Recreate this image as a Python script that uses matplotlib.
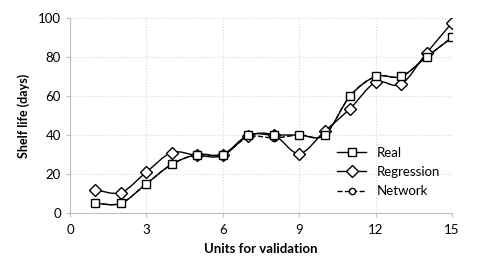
import numpy as np
import matplotlib
matplotlib.use("Agg")
import matplotlib.pyplot as plt
from matplotlib.path import Path
from matplotlib.patches import PathPatch
from matplotlib.lines import Line2D

plt.rcParams['font.family'] = ['Lato', 'DejaVu Sans']

units = [1, 2, 3, 4, 5, 6, 7, 8, 9, 10, 11, 12, 13, 14, 15]
real = [5, 5, 15, 25, 30, 30, 40, 40, 40, 40, 60, 70, 70, 80, 90]
regression = [12, 10.5, 21, 31, 29.5, 29.5, 39.5, 40, 30.5, 42, 53.5, 67, 66, 82, 97.5]
network = [5, 5, 15, 25, 30, 30, 39, 38.5, 40, 40, 60, 70, 70, 80, 90]


def smooth_path(x, y):
    # excel-style smoothed line: cubic bezier through the points
    p = np.column_stack([x, y]).astype(float)
    n = len(p)
    verts = [p[0]]
    codes = [Path.MOVETO]
    for i in range(n - 1):
        p0 = p[i - 1] if i > 0 else p[i]
        p3 = p[i + 2] if i + 2 < n else p[i + 1]
        c1 = p[i] + (p[i + 1] - p0) / 6
        c2 = p[i + 1] - (p3 - p[i]) / 6
        verts += [c1, c2, p[i + 1]]
        codes += [Path.CURVE4] * 3
    return Path(verts, codes)


fig = plt.figure(figsize=(4.86, 2.64), dpi=100)
ax = fig.add_axes([0.144, 0.193, 0.786, 0.739])

# network first so real sits on top of it
series = [
    (network, 'o', 4.5, '--'),
    (regression, 'D', 6, '-'),
    (real, 's', 5.5, '-'),
]
for vals, mk, ms, ls in series:
    ax.add_patch(PathPatch(smooth_path(units, vals), facecolor='none',
                           edgecolor='black', lw=1.0, ls=ls, zorder=3))
for z, (vals, mk, ms, ls) in enumerate(series):
    ax.plot(units, vals, ls='none', marker=mk, ms=ms, mfc='white',
            mec='black', mew=1.0, zorder=4 + z)

ax.set_xlim(0, 15)
ax.set_ylim(0, 100)
ax.set_xticks(range(0, 16, 3))
ax.set_yticks(range(0, 101, 20))
ax.grid(True, color='#d9d9d9', ls=':', lw=0.8)
ax.set_axisbelow(True)
for s in ['top', 'right']:
    ax.spines[s].set_visible(False)
for s in ['left', 'bottom']:
    ax.spines[s].set_color('#bfbfbf')
ax.tick_params(colors='#bfbfbf', labelcolor='black', labelsize=9.5, length=3)
ax.tick_params(axis='x', pad=5)
ax.set_xlabel('Units for validation', fontsize=9.5, fontweight='bold', labelpad=5)
ax.set_ylabel('Shelf life (days)', fontsize=9, fontweight='bold', labelpad=6)

handles = [
    Line2D([], [], color='black', lw=1, marker='s', ms=5.5, mfc='white'),
    Line2D([], [], color='black', lw=1, marker='D', ms=6, mfc='white'),
    Line2D([], [], color='black', lw=1, ls='--', marker='o', ms=4.5, mfc='white'),
]
ax.legend(handles, ['Real', 'Regression', 'Network'], loc='lower right',
          bbox_to_anchor=(1.0, 0.02), frameon=False, fontsize=9.5,
          handlelength=2.2, labelspacing=0.55)

fig.savefig('out.png', dpi=100)
